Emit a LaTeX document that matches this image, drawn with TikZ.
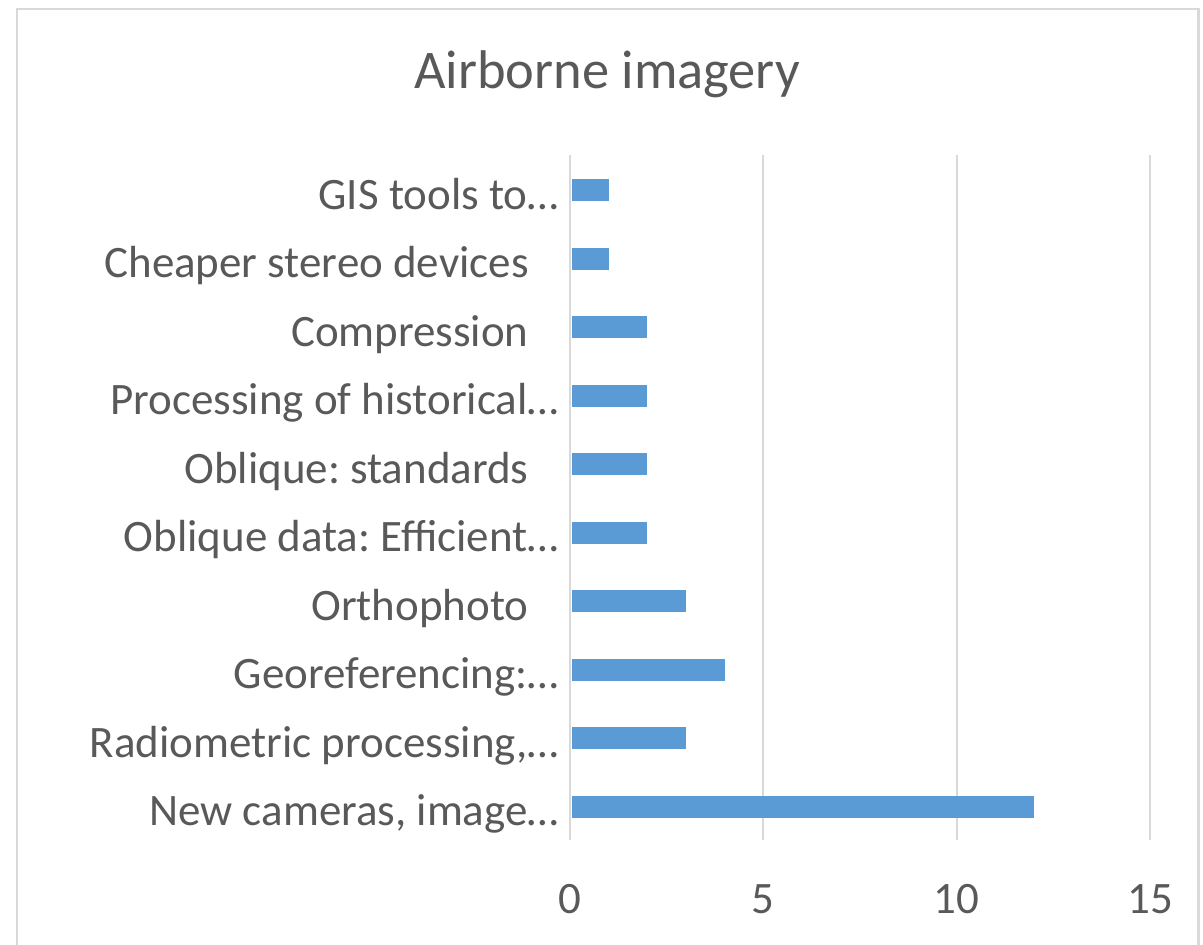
\documentclass[tikz,border=0pt]{standalone}
\usepackage{fontspec}
\setmainfont{Carlito}
\usepackage{xcolor}
\usepackage{tikz}
\usetikzlibrary{positioning}

\definecolor{chartgray}{HTML}{595959}
\definecolor{gridgray}{HTML}{D9D9D9}
\definecolor{barblue}{HTML}{5B9BD5}

\frenchspacing

\begin{document}
\begin{tikzpicture}[
  x=0.02cm, y=-0.02cm,
  catlabel/.style={font=\fontsize{25.6}{30}\selectfont, text=chartgray,
                   anchor=base east, inner sep=0pt},
  ticklabel/.style={font=\fontsize{25.6}{30}\selectfont, text=chartgray,
                    anchor=base, inner sep=0pt},
  gridline/.style={gridgray, line width=1.1pt},
  bar/.style={fill=barblue},
]
\useasboundingbox (0,0) rectangle (1203,944);

% === Chart frame ===
\draw[gridgray, line width=1.7pt] (17,9) rectangle (1198,980);

% === Title ===
\node[font=\fontsize{31}{36}\selectfont, text=chartgray, anchor=base,
      inner sep=0pt] (title) at (607,88) {Airborne imagery};

% === Grid lines and value axis ===
\foreach \v in {0,5,10,15} {
  \draw[gridline] ({570+38.67*\v},155) -- ({570+38.67*\v},840);
  \node[ticklabel] (tick\v) at ({570+38.67*\v},913) {\v};
}

% === Bars and category labels ===
\foreach \i/\val/\gap/\txt in {
    0/1/0/{GIS tools to…},
    1/1/30/{Cheaper stereo devices},
    2/2/30/{Compression},
    3/2/0/{Processing of historical…},
    4/2/30/{Oblique: standards},
    5/2/0/{Oblique data: Efficient…},
    6/3/30/{Orthophoto},
    7/4/0/{Georeferencing:…},
    8/3/0/{Radiometric processing,…},
    9/12/0/{New cameras, image…}} {
  \pgfmathsetmacro{\yc}{190+68.5*\i}
  \fill[bar] (572,\yc-11) rectangle ({570+38.67*\val},\yc+11);
  \node[catlabel] (cat\i) at (559-\gap,\yc+19) {\txt};
}

\end{tikzpicture}
\end{document}
